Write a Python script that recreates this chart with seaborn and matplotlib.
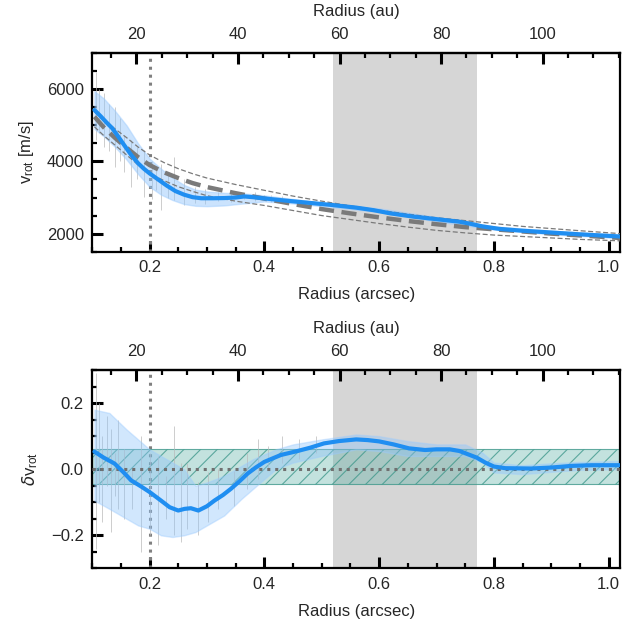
"""
Rotation curve and residuals, two stacked panels (arcsec below, au on top).
"""

import numpy as np
import pandas as pd
import matplotlib
matplotlib.use('Agg')
import matplotlib.pyplot as plt
import seaborn as sns
from matplotlib.ticker import MultipleLocator, FixedLocator

# ---- data ----
dist_pc = 113.0  # arcsec -> au
gap_lo, gap_hi = 0.52, 0.77
r_mark = 0.2

# top panel: measured rotation velocity [m/s]
r_top = [0.104, 0.115, 0.125, 0.135, 0.145, 0.155, 0.168, 0.18, 0.19, 0.2,
         0.215, 0.23, 0.245, 0.26, 0.275, 0.29, 0.31, 0.33, 0.35, 0.365, 0.38,
         0.4, 0.44, 0.48, 0.52, 0.56, 0.59, 0.62, 0.66, 0.7, 0.74, 0.76, 0.78,
         0.81, 0.85, 0.9, 0.95, 1.02]
v_top = [5425, 5250, 5080, 4920, 4700, 4470, 4180, 3950, 3800, 3670,
         3500, 3330, 3180, 3080, 3010, 2980, 2980, 2985, 3000, 3030, 3010,
         2975, 2910, 2850, 2790, 2720, 2650, 2560, 2470, 2400, 2330, 2270, 2200,
         2130, 2080, 2030, 1980, 1920]

r_top_band = [0.104, 0.12, 0.14, 0.16, 0.18, 0.2, 0.22, 0.24, 0.26, 0.28, 0.3,
              0.33, 0.36, 0.4, 0.44, 0.5, 0.6, 0.7, 0.8, 0.9, 1.02]
v_top_hi = [5950, 5750, 5400, 5000, 4500, 4080, 3800, 3550, 3350, 3220, 3170,
            3130, 3120, 3060, 2980, 2860, 2700, 2460, 2200, 2080, 1970]
v_top_lo = [4900, 4700, 4400, 4050, 3650, 3300, 3080, 2930, 2820, 2770, 2760,
            2780, 2830, 2890, 2850, 2760, 2600, 2340, 2110, 1980, 1870]

# keplerian model and its bounds
r_kep = [0.104, 0.12, 0.14, 0.16, 0.18, 0.2, 0.225, 0.25, 0.275, 0.3, 0.35,
         0.4, 0.45, 0.5, 0.55, 0.6, 0.65, 0.7, 0.75, 0.8, 0.85, 0.9, 0.95, 1.02]
v_kep = [5240, 4950, 4650, 4380, 4120, 3900, 3700, 3540, 3400, 3290, 3120,
         2970, 2820, 2680, 2560, 2450, 2350, 2260, 2180, 2120, 2060, 2000, 1950, 1880]
v_kep_hi = [5380, 5150, 4900, 4660, 4400, 4180, 3970, 3800, 3660, 3540, 3360,
            3200, 3040, 2900, 2770, 2650, 2540, 2440, 2360, 2280, 2200, 2140, 2080, 2000]
v_kep_lo = [4960, 4720, 4450, 4180, 3910, 3660, 3470, 3300, 3170, 3050, 2900,
            2780, 2640, 2500, 2390, 2280, 2180, 2090, 2020, 1960, 1920, 1880, 1840, 1800]

# individual error bars (top)
eb_r_top = [0.107, 0.112, 0.12, 0.13, 0.139, 0.148, 0.155, 0.168, 0.178, 0.191,
            0.205, 0.212, 0.22, 0.232, 0.243, 0.26, 0.28, 0.296, 0.32, 0.342,
            0.365, 0.383, 0.4, 0.412, 0.43]
eb_lo_top = [4590, 4800, 4400, 4300, 3850, 4000, 3700, 3300, 3500, 3020,
             2950, 3200, 2650, 3000, 2920, 2800, 2850, 2830, 2900, 2870,
             2950, 2900, 2930, 2880, 2870]
eb_hi_top = [6480, 6000, 5900, 5600, 5520, 5200, 4700, 4590, 4400, 4310,
             4000, 3800, 3940, 3700, 4130, 3500, 3300, 3250, 3150, 3100,
             3120, 3150, 3080, 3080, 3050]

# bottom panel: relative residual
r_bot = [0.104, 0.12, 0.139, 0.155, 0.168, 0.185, 0.2, 0.22, 0.235, 0.25, 0.261,
         0.272, 0.285, 0.3, 0.313, 0.328, 0.342, 0.357, 0.371, 0.385, 0.4, 0.415,
         0.429, 0.458, 0.48, 0.504, 0.53, 0.56, 0.58, 0.6, 0.625, 0.652, 0.68,
         0.7, 0.723, 0.74, 0.755, 0.77, 0.785, 0.8, 0.82, 0.865, 0.9, 0.936,
         0.97, 1.02]
dv_bot = [0.053, 0.035, 0.017, -0.01, -0.034, -0.052, -0.069, -0.095, -0.115,
          -0.125, -0.12, -0.118, -0.125, -0.112, -0.095, -0.078, -0.059, -0.036,
          -0.013, 0.005, 0.022, 0.033, 0.043, 0.055, 0.065, 0.078, 0.085, 0.09,
          0.088, 0.084, 0.075, 0.063, 0.058, 0.06, 0.06, 0.055, 0.045, 0.035,
          0.02, 0.008, 0.003, 0.002, 0.005, 0.01, 0.012, 0.012]

r_bot_band = [0.104, 0.13, 0.16, 0.18, 0.2, 0.22, 0.24, 0.26, 0.28, 0.3, 0.33,
              0.36, 0.38, 0.4, 0.42, 0.45, 0.5, 0.56, 0.6, 0.65, 0.7, 0.75,
              0.78, 0.8, 0.85, 0.9, 0.95, 1.02]
dv_bot_hi = [0.18, 0.17, 0.12, 0.09, 0.06, 0.04, 0.02, 0.0, -0.05, -0.04, -0.02,
             0.01, 0.03, 0.045, 0.06, 0.075, 0.09, 0.105, 0.1, 0.085, 0.075,
             0.075, 0.05, 0.02, 0.012, 0.018, 0.022, 0.025]
dv_bot_lo = [-0.095, -0.12, -0.15, -0.17, -0.18, -0.2, -0.205, -0.2, -0.19,
             -0.17, -0.14, -0.09, -0.06, -0.03, 0.0, 0.02, 0.04, 0.06, 0.055,
             0.04, 0.04, 0.04, 0.02, -0.01, -0.015, -0.008, -0.002, 0.0]

eb_r_bot = [0.106, 0.112, 0.118, 0.125, 0.132, 0.14, 0.145, 0.156, 0.17, 0.185,
            0.2, 0.214, 0.228, 0.243, 0.255, 0.266, 0.285, 0.301, 0.32, 0.348,
            0.37, 0.389, 0.406, 0.43, 0.46, 0.49]
eb_lo_bot = [-0.24, -0.1, -0.16, -0.05, -0.19, -0.08, -0.12, -0.15, -0.12, -0.25,
             -0.2, -0.23, -0.15, -0.2, -0.22, -0.18, -0.2, -0.16, -0.12, -0.11,
             -0.06, -0.03, 0.0, 0.02, 0.03, 0.05]
eb_hi_bot = [0.29, 0.2, 0.1, 0.16, 0.12, 0.05, 0.15, 0.06, 0.0, 0.1,
             0.05, 0.04, -0.02, 0.13, 0.02, 0.02, -0.04, -0.01, 0.0, -0.005,
             0.05, 0.09, 0.07, 0.1, 0.09, 0.1]

band_lo, band_hi = -0.046, 0.062

# ---- style ----
sns.set_theme(style='ticks')
plt.rcParams['font.family'] = ['Liberation Sans', 'DejaVu Sans']
plt.rcParams['mathtext.fontset'] = 'dejavusans'
plt.rcParams['hatch.linewidth'] = 0.8

BLUE = '#1f8ef1'
fs = 12

fig = plt.figure(figsize=(6.4, 6.26), dpi=100)
ax1 = fig.add_axes([0.144, 0.598, 0.825, 0.317])
ax2 = fig.add_axes([0.144, 0.092, 0.825, 0.317])


def style_axis(ax, ymajor, yminor):
    ax.set_xlim(0.1, 1.02)
    for s in ax.spines.values():
        s.set_linewidth(1.6)
        s.set_color('black')
    ax.xaxis.set_major_locator(MultipleLocator(0.2))
    ax.xaxis.set_minor_locator(MultipleLocator(0.05))
    ax.yaxis.set_major_locator(MultipleLocator(ymajor))
    ax.yaxis.set_minor_locator(MultipleLocator(yminor))
    ax.tick_params(which='major', direction='in', length=8, width=2.2,
                   labelsize=fs, top=False, right=False, color='black', pad=6)
    ax.tick_params(which='minor', direction='in', length=3.5, width=1.6,
                   top=False, right=False, color='black')
    ax.grid(False)

    sec = ax.secondary_xaxis('top', functions=(lambda x: x * dist_pc,
                                               lambda x: x / dist_pc))
    sec.xaxis.set_major_locator(FixedLocator([20, 40, 60, 80, 100]))
    sec.xaxis.set_minor_locator(FixedLocator(list(range(15, 116, 5))))
    sec.tick_params(which='major', direction='in', length=8, width=2.2,
                    labelsize=fs, color='black', pad=8)
    sec.tick_params(which='minor', direction='in', length=3.5, width=1.6,
                    color='black')
    sec.set_xlabel('Radius (au)', fontsize=fs, labelpad=8)
    sec.spines['top'].set_linewidth(1.6)

    ax.axvspan(gap_lo, gap_hi, color='#d6d6d6', lw=0, zorder=0)
    ax.axvline(r_mark, color='#808080', ls=(0, (1, 1.6)), lw=2.2, zorder=1)


# ---- top panel ----
style_axis(ax1, 2000, 500)
ax1.set_ylim(1500, 7000)
ax1.vlines(eb_r_top, eb_lo_top, eb_hi_top, color='#b8b8b8', lw=0.7,
           alpha=0.7, zorder=2)
ax1.fill_between(r_top_band, v_top_lo, v_top_hi, color='#8cc3fb', alpha=0.45,
                 lw=1.0, edgecolor='#9ccbff', zorder=2)

df_kep = pd.DataFrame({'r': r_kep, 'v': v_kep, 'hi': v_kep_hi, 'lo': v_kep_lo})
sns.lineplot(data=df_kep, x='r', y='v', ax=ax1, color='#7a7a7a', lw=3.2,
             linestyle=(0, (3.4, 1.7)), zorder=3)
sns.lineplot(data=df_kep, x='r', y='hi', ax=ax1, color='#7a7a7a', lw=0.9,
             linestyle=(0, (4, 2)), zorder=3)
sns.lineplot(data=df_kep, x='r', y='lo', ax=ax1, color='#7a7a7a', lw=0.9,
             linestyle=(0, (4, 2)), zorder=3)

df_top = pd.DataFrame({'r': r_top, 'v': v_top})
sns.lineplot(data=df_top, x='r', y='v', ax=ax1, color=BLUE, lw=3.0, zorder=4)
ax1.set_xlabel('Radius (arcsec)', fontsize=fs, labelpad=9)
ax1.set_ylabel(r'$\mathregular{v_{rot}}$ [m/s]', fontsize=fs, labelpad=8)

# ---- bottom panel ----
style_axis(ax2, 0.2, 0.05)
ax2.set_ylim(-0.3, 0.3)
ax2.axhspan(band_lo, band_hi, facecolor=(0.33, 0.68, 0.63, 0.35),
            edgecolor=(0.25, 0.6, 0.55, 0.8), hatch='//', lw=0.8, zorder=2)
ax2.axhline(0.0, color='#707070', ls=(0, (1, 1.6)), lw=2.2, zorder=3)
ax2.vlines(eb_r_bot, eb_lo_bot, eb_hi_bot, color='#b8b8b8', lw=0.7,
           alpha=0.7, zorder=2)
ax2.fill_between(r_bot_band, dv_bot_lo, dv_bot_hi, color='#8cc3fb', alpha=0.4,
                 lw=1.0, edgecolor='#9ccbff', zorder=2)

df_bot = pd.DataFrame({'r': r_bot, 'dv': dv_bot})
sns.lineplot(data=df_bot, x='r', y='dv', ax=ax2, color=BLUE, lw=3.0, zorder=4)
ax2.set_xlabel('Radius (arcsec)', fontsize=fs, labelpad=9)
ax2.set_ylabel(r'$\delta\mathregular{v_{rot}}$', fontsize=fs, labelpad=8)
ax2.set_yticks([-0.2, 0.0, 0.2])
ax2.set_yticklabels(['\u22120.2', '0.0', '0.2'])

fig.savefig('out.png', dpi=100)
